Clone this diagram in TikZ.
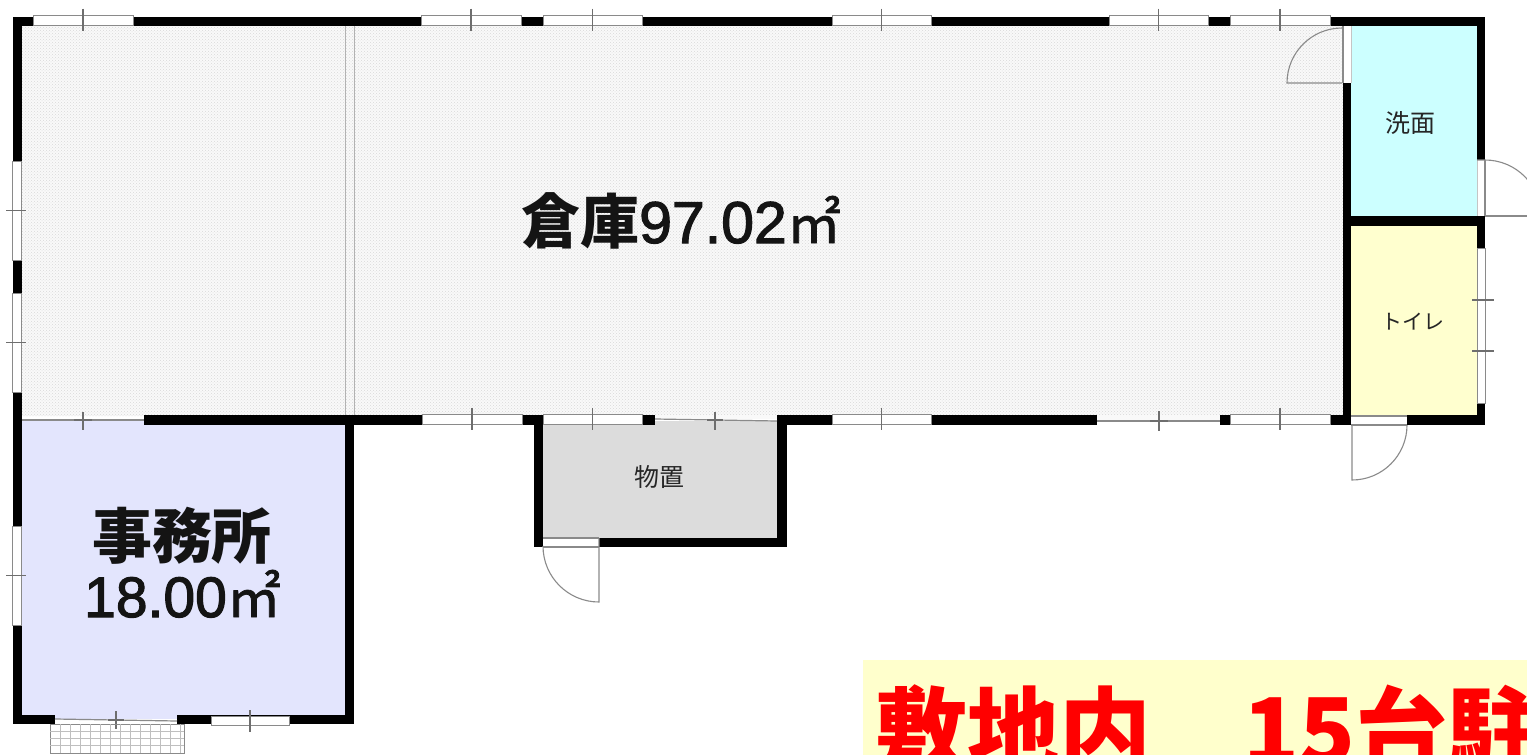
\documentclass[tikz,border=0pt]{standalone}
\usepackage{fontspec}
\setmainfont{Liberation Sans}[FakeBold=2]
\newfontfamily\cjk{Noto Sans CJK JP}
\newfontfamily\cjkm{Noto Sans CJK JP}[FakeBold=1.5]
\usetikzlibrary{patterns}
\definecolor{washc}{HTML}{CCFFFF}
\definecolor{toic}{HTML}{FFFFCF}
\definecolor{offc}{HTML}{E3E5FD}
\definecolor{stoc}{HTML}{DCDCDC}
\definecolor{banc}{HTML}{FFFFCC}
\definecolor{linec}{HTML}{8A8A8A}
\definecolor{floorc}{HTML}{F9F9F9}
\tikzset{
  wallpart/.style={fill=black},
  winframe/.style={draw=linec,fill=white,line width=1pt},
  ticksym/.style={draw=linec!80!black,line width=1.1pt},
  thinrail/.style={draw=linec,line width=1.2pt},
  doorline/.style={draw=linec,line width=1.1pt},
  partit/.style={draw=gray!60,line width=1pt},
  bigtext/.style={inner sep=0pt,text=black!92},
  smalltext/.style={inner sep=0pt,text=black!85},
}
\newcommand{\wallbox}[4]{\fill[wallpart] (#1,#2) rectangle (#3,#4);}
\newcommand{\hwindow}[3]{%
  \draw[winframe] (#1,#3-5.5) rectangle (#2,#3+4.5);%
  \draw[ticksym] ({(#1+#2)/2},#3-12.5) -- ({(#1+#2)/2},#3+9.5);}
\newcommand{\vwindow}[3]{%
  \draw[winframe] (#3-5,#1) rectangle (#3+4.5,#2);%
  \draw[ticksym] (#3-11,{(#1+#2)/2}) -- (#3+9,{(#1+#2)/2});}
\begin{document}
\begin{tikzpicture}[x=1pt,y=-1pt]
\useasboundingbox (0,0) rectangle (1527,755);
\clip (0,0) rectangle (1527,755);
% room floors
\fill[floorc] (22,26) rectangle (1343,416);
\fill[pattern=crosshatch dots,pattern color=gray!30] (22,26) rectangle (1343,416);
\fill[washc] (1351,26) rectangle (1477,216);
\fill[toic] (1351,225) rectangle (1477,416);
\fill[offc] (22,420) rectangle (346,716);
\fill[stoc] (543,424) rectangle (778,538);
% partition
\draw[partit] (345,26) -- (345,415);
\draw[partit] (354,26) -- (354,415);
% walls
\wallbox{12.5}{17}{1485}{26}
\wallbox{12.5}{17}{22}{724}
\wallbox{1476.5}{17}{1485}{425}
\wallbox{1342.5}{17}{1351}{425}
\wallbox{1342.5}{216}{1485}{225.5}
\wallbox{144}{415}{1485}{425}
\wallbox{345}{415}{354}{724}
\wallbox{12.5}{715}{354}{724}
\wallbox{533.5}{415}{543}{547}
\wallbox{777}{415}{787}{547}
\wallbox{533.5}{537.5}{787}{547}
% top windows
\hwindow{33}{133}{21}
\hwindow{421}{521}{21}
\hwindow{543}{642}{21}
\hwindow{832}{931}{21}
\hwindow{1109}{1208}{21}
\hwindow{1230}{1330}{21}
% bottom windows of the warehouse
\hwindow{422}{522}{420}
\hwindow{543}{642}{420}
\hwindow{832}{931}{420}
\hwindow{1230}{1330}{420}
% sliding openings
\draw[thinrail] (22,420) -- (144,420);
\draw[ticksym] (83,412) -- (83,430);
\draw[ticksym] (74,420) -- (92,420);
\fill[white] (655,415) rectangle (777,425);
\fill[floorc] (655,415) rectangle (777,419);
\fill[stoc] (655,421) rectangle (777,425);
\draw[thinrail] (655,419) -- (777,421);
\draw[ticksym] (715,412) -- (715,430);
\draw[ticksym] (707,420) -- (723,420);
\fill[floorc] (1097,415) rectangle (1220,420);
\fill[white] (1097,420) rectangle (1220,425);
\draw[thinrail] (1097,421) -- (1220,421);
\draw[ticksym] (1159,411) -- (1159,431);
\draw[ticksym] (1150,421) -- (1168,421);
% left windows
\vwindow{161}{260}{17}
\vwindow{293}{392}{17}
\vwindow{526}{625}{17}
% right toilet window
\draw[winframe] (1477,248) rectangle (1485,403);
\draw[ticksym] (1472,300) -- (1494,300);
\draw[ticksym] (1472,351) -- (1494,351);
% office south side
\fill[white] (55,716) rectangle (177,724);
\fill[offc] (55,715) rectangle (177,719);
\draw[thinrail] (55,719) -- (177,721);
\draw[ticksym] (116,711) -- (116,729);
\draw[ticksym] (108,720) -- (124,720);
\draw[winframe] (211,716) rectangle (289,725);
\draw[ticksym] (250,710) -- (250,732);
% grille
\draw[draw=linec,line width=0.8pt] (50,724) rectangle (184,753);
\foreach \gx in {60,70,...,180} {\draw[draw=gray!50,line width=0.6pt] (\gx,724) -- (\gx,753);}
\foreach \gy in {731,738,745} {\draw[draw=gray!50,line width=0.6pt] (50,\gy) -- (184,\gy);}
% door openings
\fill[white] (1343,26) rectangle (1351,83);
\draw[doorline] (1343,26) -- (1343,83);
\draw[draw=linec!50,line width=0.8pt] (1351,26) -- (1351,83);
\draw[doorline] (1342,83) -- (1287,83) arc[start angle=180,end angle=90,radius=55pt];
\fill[white] (1477,160) rectangle (1485,216);
\draw[draw=linec!50,line width=0.8pt] (1477,160) -- (1477,216);
\draw[doorline] (1485,160) -- (1485,216);
\draw[doorline] (1485,216) -- (1527,216);
\draw[doorline] (1477,160) -- (1485,160) arc[start angle=90,end angle=0,radius=56pt];
\fill[white] (1351,416) rectangle (1407,425);
\draw[doorline] (1351,416) -- (1407,416) (1351,425) -- (1407,425);
\draw[doorline] (1352,425) -- (1352,480) arc[start angle=-90,end angle=0,radius=55pt];
\fill[white] (543,538) rectangle (599,547);
\draw[doorline] (543,538) -- (599,538) (543,547) -- (599,547);
\draw[doorline] (599,538) -- (599,602) arc[start angle=-90,end angle=-180,radius=56pt];
% labels
\node[bigtext,anchor=base west] (warehouse) at (521,243)
  {\fontsize{59}{62}\selectfont{\cjk\bfseries 倉庫}97.02{\cjkm\fontsize{54}{62}\selectfont ㎡}};
\node[bigtext,anchor=center] (office) at (182,536)
  {\cjk\bfseries\fontsize{60}{62}\selectfont 事務所};
\node[bigtext,anchor=base west] (officearea) at (84,617)
  {\fontsize{57}{60}\selectfont 18.00{\cjkm\fontsize{54}{60}\selectfont ㎡}};
\node[smalltext,font=\cjk\fontsize{25}{27}\selectfont] (washroom) at (1410,123) {洗面};
\node[smalltext,font=\cjk\fontsize{21}{24}\selectfont] (toilet) at (1413,322) {トイレ};
\node[smalltext,font=\cjk\fontsize{25}{27}\selectfont] (storage) at (659,477) {物置};
% banner
\fill[banc] (863,660) rectangle (1527,755);
\node[inner sep=0pt,anchor=base west,text=red] (bannertext) at (875,764)
  {\cjk\bfseries\fontsize{92}{100}\selectfont 敷地内　15台駐};
\end{tikzpicture}
\end{document}
